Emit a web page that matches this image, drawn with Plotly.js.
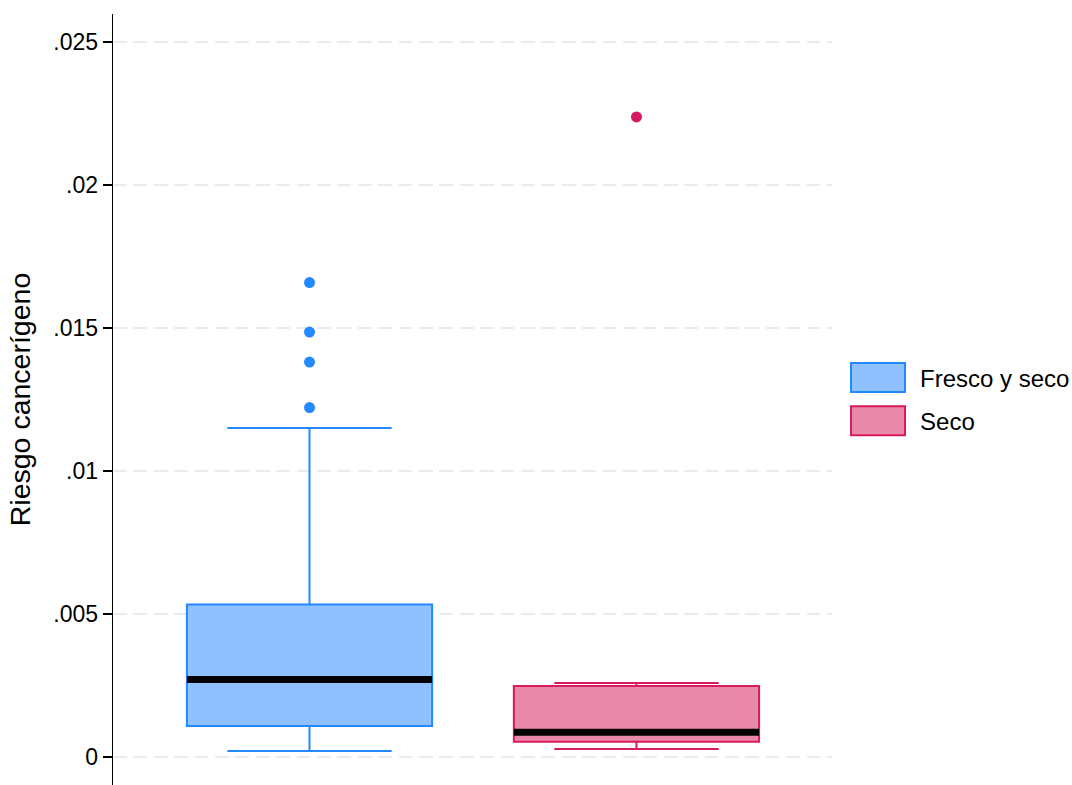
<!DOCTYPE html>
<html>
<head>
<meta charset="utf-8">
<script src="https://cdn.plot.ly/plotly-3.0.1.min.js"></script>
<style>html,body{margin:0;padding:0;background:#fff;}#chart{width:1072px;height:785px;}</style>
</head>
<body>
<div id="chart"></div>
<script>
// ---- data ----
const groups = ['Fresco y seco', 'Seco'];
const positions = [0, 1];
const q1 = [0.00108, 0.000535];
const medians = [0.00271, 0.000864];
const q3 = [0.00533, 0.00248];
const lowerWhisker = [0.00021, 0.00028];
const upperWhisker = [0.0115, 0.00259];
const outliersFresco = [0.01659, 0.01486, 0.01381, 0.01222];
const outliersSeco = [0.02238];
const tickValues = [0, 0.005, 0.01, 0.015, 0.02, 0.025];
const tickLabels = ['0', '.005', '.01', '.015', '.02', '.025'];

// ---- styles ----
const lineColors = ['#2389ff', '#d81b60'];
const fillColors = ['#8fc1ff', '#e889a9'];
const outliers = [outliersFresco, outliersSeco];
const FONT = 'Liberation Sans, Arial, sans-serif';
const BOXW = 0.75;

const traces = [];
groups.forEach((g, i) => {
  traces.push({
    type: 'box', name: g, x: [positions[i]],
    q1: [q1[i]], median: [medians[i]], q3: [q3[i]],
    lowerfence: [lowerWhisker[i]], upperfence: [upperWhisker[i]],
    width: BOXW, whiskerwidth: 0.67, boxpoints: false,
    line: {color: lineColors[i], width: 2}, fillcolor: fillColors[i],
    legendgroup: 'g' + i, showlegend: true, hoverinfo: 'skip'
  });
});
groups.forEach((g, i) => {
  // thick black median line
  traces.push({
    type: 'box', name: g + ' mediana', x: [positions[i]],
    q1: [medians[i]], median: [medians[i]], q3: [medians[i]],
    lowerfence: [medians[i]], upperfence: [medians[i]],
    width: BOXW, whiskerwidth: 0, boxpoints: false,
    line: {color: '#000000', width: 7}, fillcolor: 'rgba(0,0,0,0)',
    showlegend: false, hoverinfo: 'skip'
  });
  traces.push({
    type: 'scatter', mode: 'markers', name: g + ' outliers',
    x: outliers[i].map(() => positions[i]), y: outliers[i],
    marker: {color: lineColors[i], size: 11},
    showlegend: false, hoverinfo: 'skip'
  });
});

const layout = {
  width: 1072, height: 785,
  margin: {l: 113, r: 240, t: 14, b: 0, autoexpand: false},
  paper_bgcolor: '#ffffff', plot_bgcolor: '#ffffff',
  font: {family: FONT, color: '#000000'},
  boxmode: 'overlay',
  xaxis: {visible: false, range: [-0.601, 1.598], fixedrange: true},
  yaxis: {
    range: [-0.000979, 0.02598], automargin: false,
    tickmode: 'array', tickvals: tickValues, ticktext: tickLabels,
    tickfont: {family: FONT, size: 23, color: '#000'},
    ticks: 'outside', ticklen: 9, tickwidth: 1.5, tickcolor: '#000',
    showline: true, linecolor: '#000', linewidth: 1.3,
    showgrid: true, gridcolor: '#ebebeb', gridwidth: 1.5, griddash: '13.7px,6.7px',
    zeroline: false,
    title: {text: 'Riesgo cancerígeno', font: {family: FONT, size: 28.5, color: '#000'}, standoff: 14}
  },
  showlegend: true,
  legend: {
    x: 1.0056, xanchor: 'left', y: 0.5, yanchor: 'middle',
    font: {family: FONT, size: 24, color: '#000'},
    itemwidth: 74, traceorder: 'grouped', tracegroupgap: 9,
    bgcolor: 'rgba(0,0,0,0)', borderwidth: 0
  }
};

Plotly.newPlot('chart', traces, layout, {staticPlot: true, displayModeBar: false}).then(gd => {
  // enlarge legend swatches to match reference
  gd.querySelectorAll('.legend .traces path.legendbox').forEach(p => {
    p.setAttribute('d', 'M27,14.5H-27V-14.5H27Z');
  });
});
</script>
</body>
</html>
